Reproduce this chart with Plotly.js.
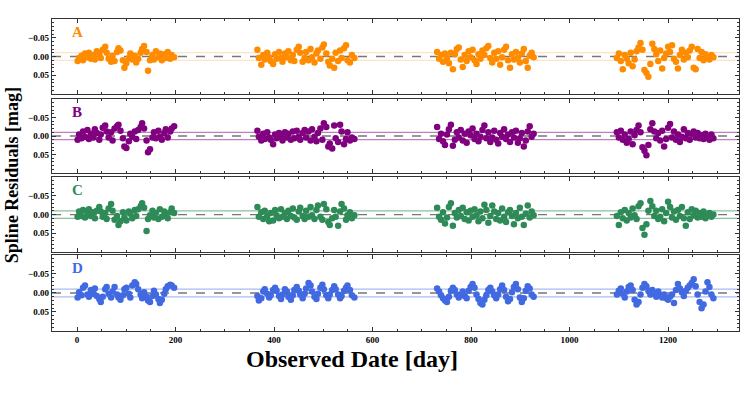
<!DOCTYPE html>
<html>
<head>
<meta charset="utf-8">
<script src="https://cdn.plot.ly/plotly-3.0.1.min.js"></script>
<style>
  body { margin: 0; background: #fff; }
  #graphDiv { width: 747px; height: 399px; }
</style>
</head>
<body>
<div id="graphDiv"></div>
<script>
// observation days, one array per season
var daysS1 = [1, 4, 9, 12, 16, 21, 24, 28, 33, 36, 40, 45, 48, 52, 57, 60, 64, 69, 72, 76, 81, 84, 88, 93, 96, 100, 105, 108, 112, 117, 120, 124, 129, 132, 136, 141, 144, 148, 153, 156, 160, 165, 168, 172, 177, 180, 184, 189, 192, 197];
var daysS2 = [366, 369, 374, 378, 381, 386, 390, 393, 398, 402, 405, 410, 414, 417, 422, 426, 429, 434, 438, 441, 446, 450, 453, 458, 462, 465, 470, 474, 477, 482, 486, 489, 494, 498, 501, 506, 510, 513, 518, 522, 525, 530, 534, 537, 542, 546, 549, 554, 558, 563];
var daysS3 = [731, 735, 739, 743, 747, 751, 755, 759, 763, 767, 771, 775, 779, 783, 787, 791, 795, 799, 803, 807, 811, 815, 819, 823, 827, 831, 835, 839, 843, 847, 851, 855, 859, 863, 867, 871, 875, 879, 883, 887, 891, 895, 899, 903, 907, 911, 915, 919, 923, 927];
var daysS4 = [1096, 1100, 1104, 1108, 1112, 1116, 1120, 1124, 1128, 1132, 1136, 1140, 1144, 1148, 1152, 1156, 1160, 1164, 1168, 1172, 1176, 1180, 1184, 1188, 1192, 1196, 1200, 1204, 1208, 1212, 1216, 1220, 1224, 1228, 1232, 1236, 1240, 1244, 1248, 1252, 1256, 1260, 1264, 1268, 1272, 1276, 1280, 1284, 1288, 1292];

// residuals [mag], panel A
var resA1 = [0.012, 0.004, -0.002, 0.010, -0.008, 0.002, -0.010, 0.006, -0.004, 0.008, -0.014, -0.006, 0.004, -0.018, -0.026, -0.010, 0.006, 0.014, -0.002, 0.012, -0.012, -0.022, -0.016, 0.010, 0.030, 0.018, 0.004, -0.008, 0.008, -0.002, 0.016, 0.006, -0.010, -0.020, -0.028, -0.012, 0.038, 0.010, -0.004, 0.008, -0.014, 0.002, -0.008, 0.010, -0.006, 0.004, -0.012, 0.006, -0.004, 0.002];
var resA2 = [-0.018, 0.004, 0.022, -0.004, 0.008, -0.010, 0.002, 0.012, 0.020, -0.006, 0.006, -0.012, 0.004, 0.014, -0.008, 0.002, -0.014, 0.010, -0.004, 0.012, -0.018, -0.026, -0.010, 0.014, 0.004, -0.012, 0.010, -0.020, 0.002, 0.016, -0.008, -0.016, 0.006, -0.024, -0.032, -0.008, 0.014, 0.024, 0.006, 0.030, -0.010, 0.012, -0.016, 0.004, -0.022, -0.030, 0.010, 0.016, -0.004, 0.004];
var resA3 = [-0.012, 0.006, -0.004, 0.014, -0.008, 0.004, 0.018, -0.010, 0.034, -0.006, -0.020, -0.024, 0.008, 0.028, -0.004, 0.012, -0.014, 0.002, -0.018, 0.010, 0.020, -0.006, 0.006, -0.016, -0.004, -0.022, -0.028, 0.004, 0.016, -0.010, 0.006, -0.014, 0.022, 0.002, -0.018, -0.026, 0.010, 0.030, -0.006, 0.008, -0.012, 0.004, 0.016, -0.008, -0.020, 0.012, 0.030, -0.002, -0.010, 0.002];
var resA4 = [0.004, -0.008, 0.012, 0.034, -0.004, 0.006, 0.018, -0.010, 0.026, 0.008, -0.014, -0.024, -0.036, -0.018, 0.036, 0.044, 0.054, 0.020, -0.034, -0.020, -0.006, 0.012, -0.016, 0.032, 0.004, -0.008, -0.026, -0.012, -0.030, 0.006, 0.014, 0.032, -0.004, -0.018, 0.008, -0.010, 0.002, -0.016, -0.026, 0.030, 0.034, -0.020, 0.004, -0.012, 0.010, -0.006, 0.002, 0.008, -0.004, 0.002];

// panel B
var resB1 = [0.010, -0.004, 0.006, -0.012, 0.002, -0.016, 0.008, -0.006, 0.004, -0.018, -0.008, 0.010, -0.004, -0.022, -0.028, -0.012, 0.004, -0.010, 0.012, -0.020, -0.026, -0.030, -0.014, 0.006, 0.028, 0.032, 0.014, -0.006, 0.002, -0.012, 0.008, -0.016, -0.024, -0.034, -0.020, 0.012, 0.044, 0.036, 0.004, -0.010, 0.006, -0.014, 0.002, 0.010, -0.008, -0.018, 0.004, -0.012, -0.020, -0.026];
var resB2 = [-0.014, 0.002, 0.012, -0.006, 0.008, -0.010, 0.004, 0.010, 0.022, -0.004, 0.006, -0.008, 0.002, 0.012, -0.010, 0.004, -0.006, 0.010, -0.012, 0.006, -0.014, 0.002, 0.010, -0.008, -0.016, 0.004, -0.012, 0.012, -0.018, 0.002, 0.014, -0.008, -0.020, 0.010, -0.034, -0.024, 0.028, 0.020, 0.034, -0.028, 0.006, 0.016, -0.030, -0.012, 0.022, 0.008, -0.010, 0.012, 0.004, 0.008];
var resB3 = [-0.024, 0.008, -0.006, 0.014, 0.024, -0.004, -0.018, -0.030, 0.026, 0.010, -0.010, 0.004, -0.016, 0.012, -0.006, 0.018, -0.012, -0.002, -0.020, 0.008, -0.006, 0.014, 0.002, -0.016, -0.028, 0.006, -0.010, 0.016, 0.004, -0.014, 0.010, 0.020, -0.008, 0.002, -0.018, 0.008, -0.004, 0.016, -0.010, 0.004, -0.014, 0.018, 0.006, -0.008, 0.028, 0.012, -0.012, -0.026, 0.002, -0.006];
var resB4 = [-0.010, 0.004, -0.014, 0.010, -0.004, 0.018, 0.008, -0.012, 0.022, -0.002, -0.016, -0.028, -0.010, 0.030, 0.040, 0.052, 0.024, -0.018, -0.034, -0.012, 0.006, -0.008, 0.012, -0.014, 0.028, 0.008, -0.022, -0.032, 0.004, -0.012, 0.010, -0.004, 0.016, 0.002, -0.018, 0.006, -0.008, 0.010, -0.006, -0.012, 0.004, -0.008, 0.006, -0.002, 0.008, -0.006, 0.004, 0.010, -0.004, 0.006];

// panel C
var resC1 = [0.006, -0.008, 0.004, -0.012, 0.008, -0.002, -0.014, 0.004, -0.006, 0.010, -0.010, -0.020, -0.008, 0.006, -0.004, 0.012, -0.016, -0.028, -0.010, 0.014, 0.004, 0.028, 0.018, -0.006, 0.008, 0.016, -0.008, -0.002, 0.010, -0.012, 0.004, -0.014, -0.022, -0.030, -0.018, 0.044, 0.012, 0.002, -0.010, 0.008, -0.004, 0.012, -0.014, 0.006, -0.008, 0.002, 0.010, -0.006, -0.016, -0.004];
var resC2 = [-0.020, 0.006, -0.006, 0.012, -0.010, 0.004, 0.018, -0.004, 0.016, -0.012, 0.002, 0.010, -0.014, 0.006, -0.004, 0.012, -0.010, 0.004, -0.016, 0.008, 0.014, -0.008, -0.018, 0.004, 0.012, -0.010, 0.006, -0.020, 0.002, 0.012, -0.012, -0.024, 0.006, 0.014, -0.028, -0.014, 0.020, 0.028, 0.010, -0.012, 0.006, 0.030, -0.008, -0.028, -0.016, 0.014, 0.002, -0.006, 0.010, 0.002];
var resC3 = [-0.018, 0.006, 0.014, -0.006, 0.024, 0.008, -0.020, -0.030, 0.030, -0.004, 0.008, -0.012, 0.004, -0.018, 0.012, -0.006, 0.016, -0.010, 0.006, -0.014, 0.002, 0.018, -0.008, 0.010, -0.026, -0.012, 0.022, 0.004, -0.024, -0.008, 0.012, -0.004, 0.016, -0.016, 0.006, 0.020, -0.006, -0.012, 0.004, 0.026, -0.004, 0.010, -0.018, 0.006, 0.028, -0.002, -0.024, 0.008, -0.008, 0.002];
var resC4 = [0.004, 0.028, -0.006, 0.010, -0.012, 0.016, -0.004, 0.008, -0.016, 0.002, 0.012, -0.022, -0.030, 0.036, 0.054, 0.026, -0.010, -0.036, -0.022, 0.004, -0.010, 0.012, 0.006, -0.014, 0.018, -0.004, -0.034, -0.020, 0.008, -0.008, 0.014, -0.012, 0.004, -0.020, 0.010, 0.030, -0.006, 0.012, -0.014, 0.002, -0.010, 0.008, -0.004, 0.006, -0.008, 0.010, 0.002, -0.004, 0.006, 0.000];

// panel D
var resD1 = [0.012, -0.002, 0.006, -0.014, -0.020, 0.004, 0.010, -0.008, 0.002, -0.012, 0.008, 0.016, 0.024, 0.010, -0.010, -0.016, 0.002, 0.012, -0.004, -0.016, 0.004, 0.012, 0.018, 0.006, -0.010, -0.014, 0.002, 0.012, -0.020, -0.028, -0.024, -0.010, 0.004, 0.014, -0.002, 0.010, 0.020, 0.024, 0.008, -0.006, 0.004, 0.016, 0.026, 0.018, 0.002, -0.010, -0.018, -0.022, -0.020, -0.014];
var resD2 = [0.008, 0.020, 0.014, -0.004, -0.010, 0.002, 0.012, 0.006, -0.008, -0.014, -0.006, 0.008, 0.016, 0.004, -0.010, -0.004, 0.010, 0.018, 0.006, -0.008, -0.016, -0.006, 0.004, 0.014, 0.002, -0.012, -0.026, -0.020, -0.004, 0.010, 0.016, 0.002, -0.014, -0.022, -0.010, 0.006, 0.014, 0.004, -0.008, -0.018, -0.010, 0.004, 0.014, 0.008, -0.006, -0.014, -0.020, -0.008, 0.006, 0.012];
var resD3 = [-0.012, -0.004, 0.006, 0.014, 0.020, 0.024, 0.010, -0.006, -0.014, -0.008, 0.004, 0.012, 0.004, -0.004, 0.008, 0.014, -0.006, -0.016, -0.024, -0.014, 0.004, 0.016, 0.026, 0.030, 0.018, 0.006, -0.008, -0.014, -0.004, 0.006, 0.014, 0.004, -0.010, -0.020, -0.008, 0.010, 0.022, 0.016, -0.002, -0.016, -0.024, -0.010, 0.012, 0.024, 0.014, -0.006, -0.018, -0.012, 0.004, 0.010];
var resD4 = [0.004, -0.006, -0.012, 0.002, 0.012, -0.004, -0.016, -0.020, -0.008, 0.018, 0.030, 0.024, 0.004, -0.014, -0.024, -0.018, -0.006, 0.004, -0.008, 0.002, 0.010, -0.004, 0.006, 0.012, 0.004, 0.014, 0.018, 0.010, 0.004, 0.026, -0.008, -0.024, -0.012, -0.002, 0.008, -0.006, -0.014, -0.020, -0.026, -0.036, -0.018, 0.004, 0.024, 0.040, 0.030, -0.004, -0.028, -0.016, 0.004, 0.014];

var panelNames = ['A', 'B', 'C', 'D'];
var panelColors = ['#ff8c00', '#800080', '#2e8b57', '#4169e1'];
var bandColors = ['rgba(255,140,0,0.3)', 'rgba(128,0,128,0.5)', 'rgba(46,139,87,0.55)', 'rgba(65,105,225,0.45)'];
var band = 0.01;

var days = daysS1.concat(daysS2, daysS3, daysS4);
var residuals = [
    resA1.concat(resA2, resA3, resA4),
    resB1.concat(resB2, resB3, resB4),
    resC1.concat(resC2, resC3, resC4),
    resD1.concat(resD2, resD3, resD4)
];

// panel domains, top to bottom
var domains = [[0.7596, 1], [0.506, 0.744], [0.253, 0.4936], [0, 0.2436]];
var plotHeight = 312;
var serif = 'Liberation Serif, Times New Roman, serif';

var data = [];
var shapes = [];
var annotations = [];
var layout = {
    width: 747,
    height: 399,
    margin: { l: 52, r: 8, t: 19, b: 68 },
    paper_bgcolor: '#fff',
    plot_bgcolor: '#fff',
    showlegend: false,
    font: { family: serif, color: '#000' }
};

for (var i = 0; i < 4; i++) {
    var n = i + 1;
    var xa = 'x' + (n === 1 ? '' : n);
    var ya = 'y' + (n === 1 ? '' : n);
    data.push({
        type: 'scatter', mode: 'markers', x: days, y: residuals[i],
        xaxis: xa, yaxis: ya, name: panelNames[i],
        marker: { color: panelColors[i], size: 6.5 }
    });
    layout['xaxis' + (n === 1 ? '' : n)] = {
        domain: [0, 1], anchor: ya, range: [-51, 1344],
        matches: n === 1 ? undefined : 'x',
        showgrid: false, zeroline: false,
        showline: true, mirror: 'allticks', linecolor: '#333', linewidth: 1.2,
        ticks: 'inside', ticklen: 4, tickcolor: '#333',
        tickvals: [0, 200, 400, 600, 800, 1000, 1200],
        minor: { ticks: 'inside', ticklen: 2, dtick: 50, tickcolor: '#333' },
        showticklabels: n === 4,
        tickfont: { family: serif, size: 9, weight: 'bold' }
    };
    layout['yaxis' + (n === 1 ? '' : n)] = {
        domain: domains[i], anchor: xa, range: [0.1, -0.1],
        showgrid: false, zeroline: false,
        showline: true, mirror: 'allticks', linecolor: '#333', linewidth: 1.2,
        ticks: 'inside', ticklen: 4, tickcolor: '#333',
        tickvals: [-0.05, 0, 0.05], tickformat: '.2f',
        minor: { ticks: 'inside', ticklen: 2, dtick: 0.01, tickcolor: '#333' },
        tickfont: { family: serif, size: 9, weight: 'bold' }
    };
    shapes.push({ type: 'line', xref: 'paper', yref: ya, x0: 0, x1: 1, y0: band, y1: band, layer: 'below', line: { color: bandColors[i], width: 1.2 } });
    shapes.push({ type: 'line', xref: 'paper', yref: ya, x0: 0, x1: 1, y0: -band, y1: -band, layer: 'below', line: { color: bandColors[i], width: 1.2 } });
    shapes.push({ type: 'line', xref: 'paper', yref: ya, x0: 0, x1: 1, y0: 0, y1: 0, layer: 'below', line: { color: '#777', width: 1.3, dash: 'dash' } });
    // letter box hangs 3px below the panel's top edge
    annotations.push({
        text: panelNames[i], xref: 'paper', yref: 'paper',
        x: 0.026, y: domains[i][1] - 3 / plotHeight,
        xanchor: 'left', yanchor: 'top', showarrow: false,
        font: { family: serif, size: 15, weight: 'bold', color: panelColors[i] }
    });
}

annotations.push({
    text: 'Observed Date [day]', xref: 'paper', yref: 'paper', x: 0.437, y: -0.043,
    xanchor: 'center', yanchor: 'top', showarrow: false,
    font: { family: serif, size: 24, weight: 'bold' }
});
annotations.push({
    text: 'Spline Residuals [mag]', xref: 'paper', yref: 'paper', x: -0.058, y: 0.5,
    xanchor: 'center', yanchor: 'middle', textangle: -90, showarrow: false,
    font: { family: serif, size: 18, weight: 'bold' }
});

layout.shapes = shapes;
layout.annotations = annotations;

var graphDiv = document.getElementById('graphDiv');
Plotly.newPlot(graphDiv, data, layout, { displayModeBar: false, staticPlot: true });
</script>
</body>
</html>
